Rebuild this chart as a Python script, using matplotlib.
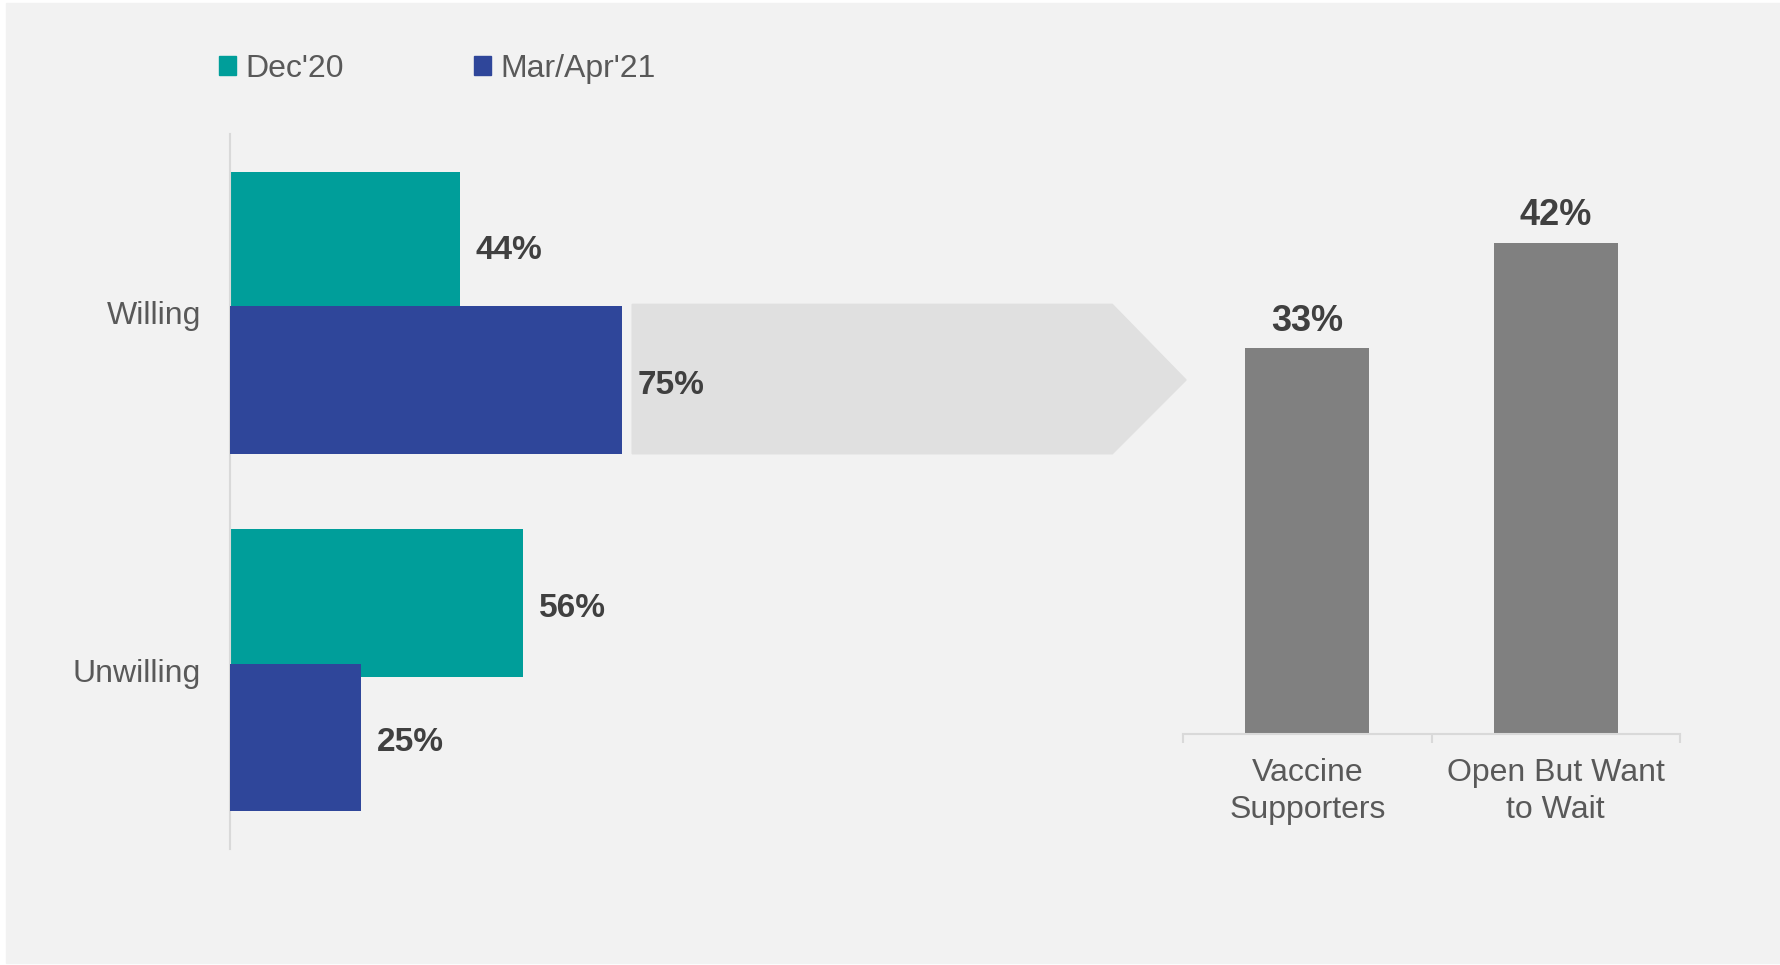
import matplotlib.pyplot as plt
from matplotlib.patches import Patch, Polygon, Rectangle
import numpy as np

plt.rcParams['font.family'] = ['Liberation Sans', 'DejaVu Sans']

# data
groups = ['Willing', 'Unwilling']
dec20 = [44, 56]
mar_apr21 = [75, 25]
series_names = ["Dec'20", "Mar/Apr'21"]
sub_groups = ['Vaccine\nSupporters', 'Open But Want\nto Wait']
sub_values = [33, 42]

teal = '#009E9A'
blue = '#2F469A'
bar_grey = '#808080'
arrow_grey = '#E0E0E0'
bg = '#F2F2F2'
txt = '#595959'
val_txt = '#404040'

fig = plt.figure(figsize=(17.8, 9.65), dpi=100, facecolor='white')
# grey panel behind everything
fig.patches.append(Rectangle((6/1780, 2/965), 1 - 6/1780, 1 - 5/965,
                             transform=fig.transFigure, color=bg, zorder=-10))

# left panel - horizontal bars
ax1 = fig.add_axes([230/1780, 116/965, (1186-230)/1780, 715/965])
ax1.set_facecolor('none')
y = np.arange(len(groups))
off = 0.188
h = 0.413
lab_dy = 0.015
ax1.barh(y - off, dec20, height=h, color=teal, zorder=2)
ax1.barh(y + off, mar_apr21, height=h, color=blue, zorder=3)
for i in range(len(groups)):
    ax1.text(dec20[i] + 3, y[i] - off + lab_dy, f'{dec20[i]}%', va='center', ha='left',
             fontsize=24, fontweight='bold', color=val_txt, zorder=5)
    ax1.text(mar_apr21[i] + 3, y[i] + off + lab_dy, f'{mar_apr21[i]}%', va='center', ha='left',
             fontsize=24, fontweight='bold', color=val_txt, zorder=5)

# arrow from willing bar to the breakdown
a0 = mar_apr21[0] + 1.9
a1 = a0 + 91.8
tip = a1 + 14.1
yc = y[0] + off
ax1.add_patch(Polygon([(a0, yc - h/2 - 0.005), (a1, yc - h/2 - 0.005), (tip, yc),
                       (a1, yc + h/2), (a0, yc + h/2)],
                      closed=True, color=arrow_grey, zorder=1, clip_on=False))

ax1.set_xlim(0, (1186-230)/5.23)
ax1.set_ylim(1.5, -0.5)
ax1.set_yticks(y)
ax1.set_yticklabels(groups, fontsize=23, color=txt)
ax1.tick_params(axis='y', length=0, pad=21)
ax1.set_xticks([])
for s in ['top', 'right', 'bottom']:
    ax1.spines[s].set_visible(False)
ax1.spines['left'].set_color('#D9D9D9')
ax1.spines['left'].set_linewidth(1.5)

# legend
handles = [Patch(color=teal), Patch(color=blue)]
fig.legend(handles, series_names, loc='center left',
           bbox_to_anchor=(219/1780, 1 - 69/965), ncol=2, frameon=False,
           fontsize=23, labelcolor=txt, handlelength=0.53, handleheight=0.53,
           handletextpad=0.28, columnspacing=4.1, borderpad=0, borderaxespad=0)

# right panel - column chart
ax2 = fig.add_axes([1183/1780, (965-734)/965, 497/1780, 600/965])
ax2.set_facecolor('none')
x = np.arange(len(sub_groups))
ax2.bar(x, sub_values, width=0.5, color=bar_grey, zorder=2)
for i, v in enumerate(sub_values):
    ax2.annotate(f'{v}%', (x[i], v), xytext=(0, 19.5), textcoords='offset points',
                 ha='center', va='center', fontsize=26, fontweight='bold', color=val_txt)
ax2.set_xlim(-0.5, 1.5)
ax2.set_ylim(0, 600/11.69)
ax2.set_xticks(x)
ax2.set_xticklabels(sub_groups, fontsize=23, color=txt, linespacing=1.3)
ax2.set_xticks([-0.5, 0.5, 1.5], minor=True)
ax2.tick_params(axis='x', which='major', length=0, pad=17)
ax2.tick_params(axis='x', which='minor', length=6.5, width=1.5, color='#D9D9D9')
ax2.set_yticks([])
for s in ['top', 'right', 'left']:
    ax2.spines[s].set_visible(False)
ax2.spines['bottom'].set_color('#D9D9D9')
ax2.spines['bottom'].set_linewidth(1.5)

fig.savefig('out.png', dpi=100, facecolor=fig.get_facecolor())
